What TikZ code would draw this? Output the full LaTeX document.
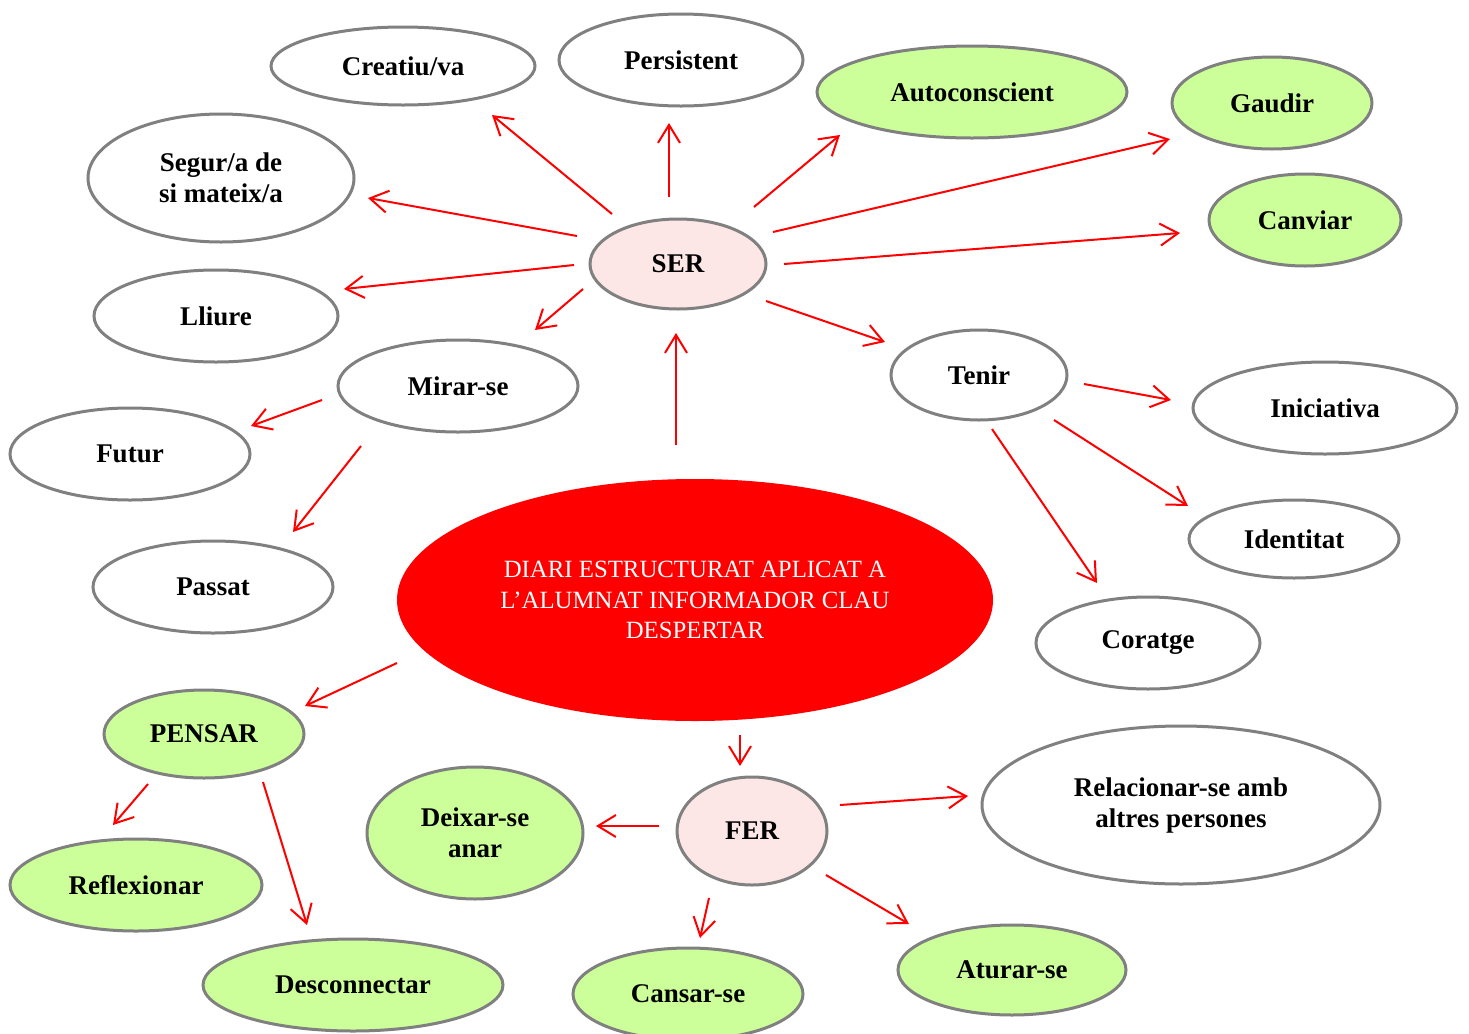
\documentclass[tikz,border=0pt]{standalone}
\usepackage{fontspec}
\setmainfont{Liberation Serif}
\usetikzlibrary{shapes.geometric,arrows.meta}
\definecolor{leaf}{RGB}{204,255,153}
\definecolor{blush}{RGB}{253,230,230}
\definecolor{rim}{RGB}{128,128,128}
\tikzset{
  bubble/.style={ellipse, draw=rim, line width=1.5pt, fill=white, inner sep=0pt,
    align=center, font=\fontsize{13.5}{15.5}\selectfont\bfseries},
  greenbub/.style={bubble, fill=leaf},
  pinkbub/.style={bubble, fill=blush},
  sz/.style 2 args={minimum width=#1pt, minimum height=#2pt},
  arr/.style={draw=red, line width=1pt, -{Straight Barb[length=9pt,width=11pt]}},
}
\begin{document}
\begin{tikzpicture}[x=0.5pt,y=-0.5pt]
\useasboundingbox (0,0) rectangle (1469,1034);

% central idea
\node[ellipse, fill=red, inner sep=0pt, sz={298}{121}, align=center,
      text=white, font=\fontsize{12.4}{15.3}\selectfont] (core) at (695,600)
  {DIARI ESTRUCTURAT APLICAT A\\L'ALUMNAT INFORMADOR CLAU\\DESPERTAR};

% SER branch
\node[pinkbub, sz={88}{45}] (ser) at (678,264) {SER};
\node[bubble, sz={132}{39}] (creatiu) at (403,66) {Creatiu/va};
\node[bubble, sz={122}{46}] (persistent) at (681,60) {Persistent};
\node[greenbub, sz={155}{46}] (autoc) at (972,92) {Autoconscient};
\node[greenbub, sz={100}{46}] (gaudir) at (1272,103) {Gaudir};
\node[greenbub, sz={96}{46}] (canviar) at (1305,220) {Canviar};
\node[bubble, sz={133}{64}] (segur) at (221,178) {Segur/a de\\si mateix/a};
\node[bubble, sz={122}{46}] (lliure) at (216,316) {Lliure};
\node[bubble, sz={120}{46}] (mirar) at (458,386) {Mirar-se};
\node[bubble, sz={88}{45}] (tenir) at (979,375) {Tenir};
\node[bubble, sz={132}{46}] (inic) at (1325,408) {Iniciativa};
\node[bubble, sz={120}{46}] (futur) at (130,454) {Futur};
\node[bubble, sz={105}{39}] (ident) at (1294,539) {Identitat};
\node[bubble, sz={120}{46}] (passat) at (213,587) {Passat};
\node[bubble, sz={112}{46}] (coratge) at (1148,643) {Coratge};

% PENSAR branch
\node[greenbub, sz={100}{44}] (pensar) at (204,734) {PENSAR};
\node[greenbub, sz={126}{46}] (reflex) at (136,885) {Reflexionar};
\node[greenbub, sz={150}{46}] (descon) at (353,985) {Desconnectar};

% FER branch
\node[pinkbub, sz={75}{54}] (fer) at (752,831) {FER};
\node[bubble, sz={199}{79}] (relac) at (1181,805) {Relacionar-se amb\\altres persones};
\node[greenbub, sz={108}{66}] (deixar) at (475,833) {Deixar-se\\anar};
\node[greenbub, sz={115}{46}] (cansar) at (688,994) {Cansar-se};
\node[greenbub, sz={114}{45}] (aturar) at (1012,970) {Aturar-se};

% connectors
\draw[arr] ([shift={(-66,-50)}]ser.center) -- ([shift={(89,49)}]creatiu.center);
\draw[arr] ([shift={(-9,-67)}]ser.center) -- ([shift={(-12,63)}]persistent.center);
\draw[arr] ([shift={(76,-57)}]ser.center) -- ([shift={(-132,43)}]autoc.center);
\draw[arr] ([shift={(95,-32)}]ser.center) -- ([shift={(-102,36)}]gaudir.center);
\draw[arr] ([shift={(106,0)}]ser.center) -- ([shift={(-125,13)}]canviar.center);
\draw[arr] ([shift={(-101,-28)}]ser.center) -- ([shift={(147,20)}]segur.center);
\draw[arr] ([shift={(-104,1)}]ser.center) -- ([shift={(128,-27)}]lliure.center);
\draw[arr] ([shift={(-95,25)}]ser.center) -- ([shift={(77,-56)}]mirar.center);
\draw[arr] ([shift={(88,37)}]ser.center) -- ([shift={(-94,-33)}]tenir.center);
\draw[arr] ([shift={(-19,-155)}]core.center) -- ([shift={(-2,69)}]ser.center);
\draw[arr] ([shift={(105,9)}]tenir.center) -- ([shift={(-154,-8)}]inic.center);
\draw[arr] ([shift={(75,45)}]tenir.center) -- ([shift={(-106,-33)}]ident.center);
\draw[arr] ([shift={(13,54)}]tenir.center) -- ([shift={(-51,-60)}]coratge.center);
\draw[arr] ([shift={(-136,14)}]mirar.center) -- ([shift={(121,-28)}]futur.center);
\draw[arr] ([shift={(-97,60)}]mirar.center) -- ([shift={(80,-55)}]passat.center);
\draw[arr] ([shift={(-298,63)}]core.center) -- ([shift={(101,-28)}]pensar.center);
\draw[arr] ([shift={(-56,50)}]pensar.center) -- ([shift={(-23,-60)}]reflex.center);
\draw[arr] ([shift={(59,48)}]pensar.center) -- ([shift={(-46,-60)}]descon.center);
\draw[arr] ([shift={(45,135)}]core.center) -- ([shift={(-12,-65)}]fer.center);
\draw[arr] ([shift={(88,-26)}]fer.center) -- ([shift={(-213,-9)}]relac.center);
\draw[arr] ([shift={(-93,-5)}]fer.center) -- ([shift={(121,-7)}]deixar.center);
\draw[arr] ([shift={(-43,67)}]fer.center) -- ([shift={(12,-56)}]cansar.center);
\draw[arr] ([shift={(74,44)}]fer.center) -- ([shift={(-103,-46)}]aturar.center);
\end{tikzpicture}
\end{document}
